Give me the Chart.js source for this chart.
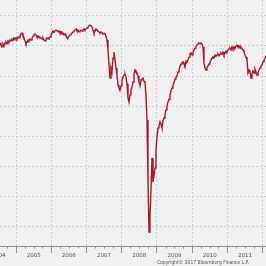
<!DOCTYPE html>
<html>
<head>
<meta charset="utf-8">
<script src="https://cdn.jsdelivr.net/npm/chart.js@4"></script>
<style>
  html, body { margin: 0; padding: 0; background: #f0f0f0; }
  canvas { display: block; }
</style>
</head>
<body>
<canvas id="chart" width="266" height="266"></canvas>
<script>
const startYear = 2004.545;
const stepYears = 0.0284;
const values = [
  71.0, 70.3, 69.7, 70.7, 70.0, 71.0, 71.3, 70.7, 71.7, 71.3,
  72.0, 71.7, 72.3, 72.0, 72.7, 72.3, 72.7, 72.3, 73.0, 72.7,
  73.3, 74.0, 74.3, 73.3, 72.7, 71.7, 70.7, 71.3, 72.0, 71.7,
  72.3, 72.0, 72.7, 73.3, 73.7, 74.0, 73.7, 73.0, 73.3, 72.7,
  73.0, 72.7, 72.3, 72.7, 72.0, 71.7, 72.3, 72.7, 72.3, 72.7,
  73.0, 73.7, 74.3, 75.0, 74.7, 75.0, 75.3, 75.0, 74.7, 75.0,
  74.3, 74.7, 74.0, 74.3, 73.7, 74.0, 73.3, 73.0, 72.7, 73.3,
  73.7, 74.0, 74.3, 74.7, 75.0, 75.3, 75.7, 75.0, 75.3, 74.7,
  75.0, 75.3, 75.0, 75.3, 75.7, 75.3, 75.7, 76.0, 76.3, 76.7,
  77.0, 76.7, 76.3, 75.3, 74.3, 75.0, 75.7, 75.3, 75.0, 74.7,
  74.3, 74.7, 74.3, 74.0, 74.3, 74.0, 73.3, 72.0, 68.7, 63.7,
  59.3, 62.7, 61.3, 66.0, 68.0, 65.3, 62.7, 60.3, 57.0, 56.0,
  55.3, 56.7, 58.7, 59.7, 60.3, 60.7, 59.7, 57.3, 52.7, 51.3,
  53.7, 55.3, 56.3, 58.0, 60.7, 62.0, 61.3, 61.0, 60.0, 58.0,
  56.7, 58.7, 59.0, 59.3, 58.3, 57.7, 53.7, 45.3, 25.3, 8.0,
  13.7, 22.0, 32.7, 24.7, 26.7, 29.3, 35.3, 39.7, 42.7, 43.3,
  44.7, 44.0, 42.7, 45.0, 46.0, 47.3, 48.7, 50.0, 51.3, 52.3,
  53.7, 55.0, 56.0, 57.0, 57.7, 59.0, 59.7, 60.0, 61.3, 62.0,
  63.3, 64.0, 64.3, 64.7, 64.0, 63.0, 65.0, 64.7, 65.3, 66.3,
  67.3, 67.7, 67.0, 68.0, 68.7, 69.3, 70.0, 70.3, 70.7, 71.0,
  70.7, 71.0, 70.7, 69.7, 64.3, 62.7, 62.0, 63.0, 63.3, 64.0,
  64.7, 65.3, 66.0, 66.3, 66.0, 67.0, 66.7, 67.0, 67.3, 66.7,
  67.3, 67.7, 67.3, 68.0, 67.0, 67.7, 68.3, 68.0, 68.7, 69.0,
  69.3, 68.7, 69.7, 69.0, 69.7, 69.3, 70.0, 70.3, 69.7, 70.0,
  69.3, 69.7, 69.0, 68.7, 68.0, 67.0, 66.3, 65.3, 61.0, 62.0,
  61.3, 59.3, 60.7, 61.7, 61.0, 62.3, 61.3, 60.3, 61.3, 62.0,
  62.7, 63.3, 63.7, 64.7, 65.3, 66.0, 66.7
];
const years = [2004, 2005, 2006, 2007, 2008, 2009, 2010, 2011, 2012];
const gridValues = [10, 20, 30, 40, 50, 60, 70, 80];
const copyright = 'Copyright© 2017 Bloomberg Finance L.P.';

const points = values.map((v, i) => ({ x: startYear + i * stepYears, y: v }));

// Marcas trimestrais ao longo do eixo
const quarterTicks = [];
years.forEach(y => [0, 0.25, 0.5, 0.75].forEach(q => quarterTicks.push(y + q)));

const extras = {
  id: 'extras',
  beforeDraw(chart) {
    const { ctx, width, height } = chart;
    ctx.save();
    ctx.fillStyle = '#f0f0f0';
    ctx.fillRect(0, 0, width, height);
    ctx.restore();
  },
  afterDraw(chart) {
    const { ctx, scales: { x } } = chart;
    const base = chart.chartArea.bottom;
    ctx.save();
    ctx.strokeStyle = '#8c8c8c';
    ctx.lineWidth = 1;
    quarterTicks.forEach(v => {
      if (Number.isInteger(v)) return;
      const px = Math.round(x.getPixelForValue(v)) + 0.5;
      ctx.beginPath();
      ctx.moveTo(px, base);
      ctx.lineTo(px, base + 2.5);
      ctx.stroke();
    });
    ctx.fillStyle = '#555';
    ctx.font = '5.5px "DejaVu Sans"';
    ctx.textAlign = 'center';
    ctx.textBaseline = 'middle';
    ctx.fillText(copyright, 203, 263, 92);
    ctx.restore();
  }
};

new Chart(document.getElementById('chart'), {
  type: 'line',
  data: {
    datasets: [{
      data: points,
      borderColor: '#a51a2a',
      borderWidth: 1.4,
      pointRadius: 0,
      tension: 0,
      fill: false
    }]
  },
  options: {
    responsive: false,
    animation: false,
    events: [],
    layout: { padding: 0 },
    plugins: { legend: { display: false }, tooltip: { enabled: false } },
    scales: {
      x: {
        type: 'linear',
        min: startYear,
        max: startYear + (values.length - 1) * stepYears,
        afterBuildTicks(scale) {
          scale.ticks = quarterTicks.map(v => ({ value: v }));
        },
        afterFit(scale) {
          scale.height = 20;
          scale.paddingLeft = 0;
          scale.paddingRight = 0;
        },
        grid: {
          color: c => Number.isInteger(c.tick.value) ? '#cdcdcd' : 'rgba(0,0,0,0)',
          tickColor: c => Number.isInteger(c.tick.value) ? '#8c8c8c' : 'rgba(0,0,0,0)',
          tickBorderDash: [],
          tickLength: 7,
          lineWidth: 1
        },
        border: { display: true, color: '#8c8c8c', width: 1, dash: [2, 2] },
        ticks: {
          autoSkip: false,
          maxRotation: 0,
          padding: -1,
          color: '#555',
          font: { family: 'DejaVu Sans', size: 5.5 },
          callback: v => (v % 1 === 0.5) ? String(Math.floor(v)) : ''
        }
      },
      y: {
        min: 10 / 3,
        max: 256 / 3,
        afterBuildTicks(scale) {
          scale.ticks = gridValues.map(v => ({ value: v }));
        },
        afterFit(scale) { scale.width = 0; },
        grid: { color: '#cdcdcd', drawTicks: false },
        border: { display: false, dash: [2, 2] },
        ticks: { display: false }
      }
    }
  },
  plugins: [extras]
});
</script>
</body>
</html>
